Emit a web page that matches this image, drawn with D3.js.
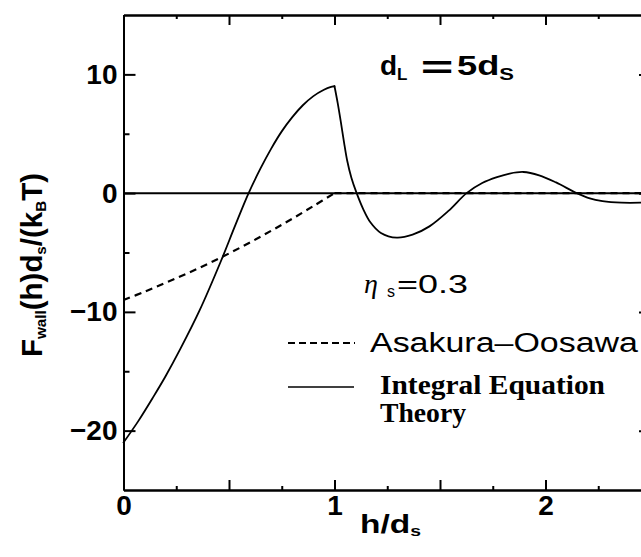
<!DOCTYPE html>
<html>
<head>
<meta charset="utf-8">
<script src="https://cdn.jsdelivr.net/npm/d3@7"></script>
<style>
  body { margin: 0; background: #fff; }
  svg { display: block; }
</style>
</head>
<body>
<svg id="chart"></svg>
<script>
// Asakura-Oosawa (dashed): curved part up to h = 1, zero afterwards
const aoH = [0, 0.1, 0.2, 0.3, 0.4, 0.5, 0.6, 0.7, 0.8, 0.9, 1.0, 2.5];
const aoF = [-9.0, -8.3, -7.55, -6.78, -5.95, -5.08, -4.15, -3.17, -2.15, -1.09, 0, 0];

// Integral Equation Theory (solid), rising branch up to the corner at h = 1
const ietRiseH = [0, 0.07, 0.14, 0.2, 0.27, 0.36, 0.46, 0.53, 0.593, 0.65, 0.7, 0.75, 0.8, 0.85, 0.9, 0.95, 0.98, 1.0];
const ietRiseF = [-21, -19.2, -17.2, -15.4, -13.1, -9.9, -5.8, -2.7, 0, 2.1, 3.75, 5.2, 6.4, 7.4, 8.17, 8.7, 8.93, 9.0];
// falling / oscillating branch after the corner
const ietFallH = [1.0, 1.015, 1.03, 1.045, 1.06, 1.08, 1.105, 1.135, 1.17, 1.22, 1.295, 1.37, 1.45, 1.54, 1.626, 1.7, 1.77, 1.83, 1.895, 1.97, 2.05, 2.148, 2.21, 2.27, 2.36, 2.45, 2.5];
const ietFallF = [9.0, 7.6, 6.0, 4.3, 2.75, 1.3, 0, -1.3, -2.45, -3.35, -3.75, -3.5, -2.8, -1.5, 0, 0.85, 1.35, 1.65, 1.78, 1.5, 0.9, 0, -0.45, -0.67, -0.8, -0.8, -0.75];

// ticks
const xMajor = [0, 0.5, 1, 1.5, 2, 2.5];
const xMinor = [0.25, 0.75, 1.25, 1.75, 2.25];
const xLabels = [0, 1, 2];
const yMajor = [-20, -10, 0, 10];
const yMinor = [-15, -5, 5];

const W = 641, H = 557;
const svg = d3.select('#chart').attr('width', W).attr('height', H);

// scales (right edge of the frame lies just outside the picture)
const x = d3.scaleLinear().domain([0, 2.5]).range([123.5, 651]);
const y = d3.scaleLinear().domain([-25, 15]).range([490, 15]);

const sans = '"Liberation Sans", Arial, sans-serif';
const serif = '"Liberation Serif", "Times New Roman", serif';

function styleAxis(g) {
    g.select('.domain').attr('stroke', '#000').attr('stroke-width', 2);
    g.selectAll('.tick line').attr('stroke', '#000').attr('stroke-width', 2);
    g.selectAll('.tick text')
        .attr('font-family', sans)
        .attr('font-weight', 'bold')
        .attr('font-size', 28)
        .attr('fill', '#000');
}

// bottom axis
svg.append('g').attr('transform', 'translate(0,' + y(-25) + ')')
    .call(d3.axisBottom(x).tickValues(xMajor).tickSize(-10).tickSizeOuter(0).tickPadding(5)
        .tickFormat(d => xLabels.includes(d) ? d3.format('d')(d) : ''))
    .call(styleAxis);
svg.append('g').attr('transform', 'translate(0,' + y(-25) + ')')
    .call(d3.axisBottom(x).tickValues(xMinor).tickSize(-4).tickSizeOuter(0).tickFormat(''))
    .call(styleAxis);

// top axis
svg.append('g').attr('transform', 'translate(0,' + y(15) + ')')
    .call(d3.axisTop(x).tickValues(xMajor).tickSize(-10).tickSizeOuter(0).tickFormat(''))
    .call(styleAxis);
svg.append('g').attr('transform', 'translate(0,' + y(15) + ')')
    .call(d3.axisTop(x).tickValues(xMinor).tickSize(-4).tickSizeOuter(0).tickFormat(''))
    .call(styleAxis);

// left axis
svg.append('g').attr('transform', 'translate(' + x(0) + ',0)')
    .call(d3.axisLeft(y).tickValues(yMajor).tickSize(-12).tickSizeOuter(0).tickPadding(6))
    .call(styleAxis);
svg.append('g').attr('transform', 'translate(' + x(0) + ',0)')
    .call(d3.axisLeft(y).tickValues(yMinor).tickSize(-6).tickSizeOuter(0).tickFormat(''))
    .call(styleAxis);

// right axis
svg.append('g').attr('transform', 'translate(' + x(2.5) + ',0)')
    .call(d3.axisRight(y).tickValues(yMajor).tickSize(-12).tickSizeOuter(0).tickFormat(''))
    .call(styleAxis);
svg.append('g').attr('transform', 'translate(' + x(2.5) + ',0)')
    .call(d3.axisRight(y).tickValues(yMinor).tickSize(-6).tickSizeOuter(0).tickFormat(''))
    .call(styleAxis);

// zero line
svg.append('line')
    .attr('x1', x(0)).attr('x2', x(2.5))
    .attr('y1', y(0)).attr('y2', y(0))
    .attr('stroke', '#000').attr('stroke-width', 2);

// curves
const smooth = d3.line().x(d => x(d[0])).y(d => y(d[1])).curve(d3.curveCatmullRom.alpha(0.5));
const straight = d3.line().x(d => x(d[0])).y(d => y(d[1]));

const ao = aoH.map((h, i) => [h, aoF[i]]);
svg.append('path')
    .datum(ao.filter(d => d[0] <= 1))
    .attr('d', smooth)
    .attr('fill', 'none').attr('stroke', '#000').attr('stroke-width', 2.2)
    .attr('stroke-dasharray', '7,5');
svg.append('path')
    .datum(ao.filter(d => d[0] >= 1))
    .attr('d', straight)
    .attr('fill', 'none').attr('stroke', '#000').attr('stroke-width', 2.2)
    .attr('stroke-dasharray', '7,5');

// two branches meet in a sharp corner at h = 1
[[ietRiseH, ietRiseF], [ietFallH, ietFallF]].forEach(function (b) {
    svg.append('path')
        .datum(b[0].map((h, i) => [h, b[1][i]]))
        .attr('d', smooth)
        .attr('fill', 'none').attr('stroke', '#000').attr('stroke-width', 1.8)
        .attr('stroke-linecap', 'round');
});

// y axis title
const yt = svg.append('text')
    .attr('transform', 'translate(42,265) rotate(-90)')
    .attr('text-anchor', 'middle')
    .attr('font-family', sans).attr('font-weight', 'bold').attr('font-size', 29)
    .attr('textLength', 184).attr('lengthAdjust', 'spacingAndGlyphs');
yt.append('tspan').text('F');
yt.append('tspan').attr('font-size', 15).attr('dy', 4).text('wall');
yt.append('tspan').attr('dy', -4).text('(h)d');
yt.append('tspan').attr('font-size', 15).attr('dy', 4).text('s');
yt.append('tspan').attr('dy', -4).text('/(k');
yt.append('tspan').attr('font-size', 15).attr('dy', 4).text('B');
yt.append('tspan').attr('dy', -4).text('T)');

// x axis title
const xt = svg.append('text')
    .attr('x', 360).attr('y', 533)
    .attr('font-family', sans).attr('font-weight', 'bold').attr('font-size', 26)
    .attr('textLength', 61).attr('lengthAdjust', 'spacingAndGlyphs');
xt.append('tspan').text('h/d');
xt.append('tspan').attr('font-size', 15).attr('dy', 3).text('s');

// panel title d_L = 5 d_s
const t1 = svg.append('text')
    .attr('x', 380).attr('y', 75)
    .attr('font-family', sans).attr('font-weight', 'bold').attr('font-size', 28);
t1.append('tspan').text('d');
t1.append('tspan').attr('font-size', 17).attr('dy', 5).text('L');
svg.append('text')
    .attr('transform', 'translate(437,78) scale(2.0,1.1)')
    .attr('text-anchor', 'middle')
    .attr('font-family', sans).attr('font-weight', 'bold').attr('font-size', 28)
    .text('=');
const t2 = svg.append('text')
    .attr('x', 457).attr('y', 75)
    .attr('font-family', sans).attr('font-weight', 'bold').attr('font-size', 28)
    .attr('textLength', 57).attr('lengthAdjust', 'spacingAndGlyphs');
t2.append('tspan').text('5d');
t2.append('tspan').attr('font-size', 17).attr('dy', 5).text('S');

// eta_s = 0.3
svg.append('text')
    .attr('x', 364).attr('y', 293)
    .attr('font-family', serif).attr('font-style', 'italic').attr('font-size', 28)
    .text('\u03b7');
svg.append('text')
    .attr('x', 387).attr('y', 297)
    .attr('font-family', sans).attr('font-size', 16)
    .text('s');
svg.append('text')
    .attr('x', 397).attr('y', 293)
    .attr('font-family', sans).attr('font-size', 26)
    .attr('textLength', 71).attr('lengthAdjust', 'spacingAndGlyphs')
    .text('=0.3');

// legend
svg.append('line')
    .attr('x1', 288).attr('x2', 355).attr('y1', 343).attr('y2', 343)
    .attr('stroke', '#000').attr('stroke-width', 2).attr('stroke-dasharray', '7,4');
svg.append('text')
    .attr('x', 370).attr('y', 352)
    .attr('font-family', sans).attr('font-size', 27)
    .attr('textLength', 268).attr('lengthAdjust', 'spacingAndGlyphs')
    .text('Asakura\u2013Oosawa');

svg.append('line')
    .attr('x1', 288).attr('x2', 354).attr('y1', 387).attr('y2', 387)
    .attr('stroke', '#000').attr('stroke-width', 1.6);
svg.append('text')
    .attr('x', 380).attr('y', 394)
    .attr('font-family', serif).attr('font-weight', 'bold').attr('font-size', 28)
    .attr('textLength', 225).attr('lengthAdjust', 'spacingAndGlyphs')
    .text('Integral Equation');
svg.append('text')
    .attr('x', 380).attr('y', 422)
    .attr('font-family', serif).attr('font-weight', 'bold').attr('font-size', 28)
    .attr('textLength', 86).attr('lengthAdjust', 'spacingAndGlyphs')
    .text('Theory');
</script>
</body>
</html>
